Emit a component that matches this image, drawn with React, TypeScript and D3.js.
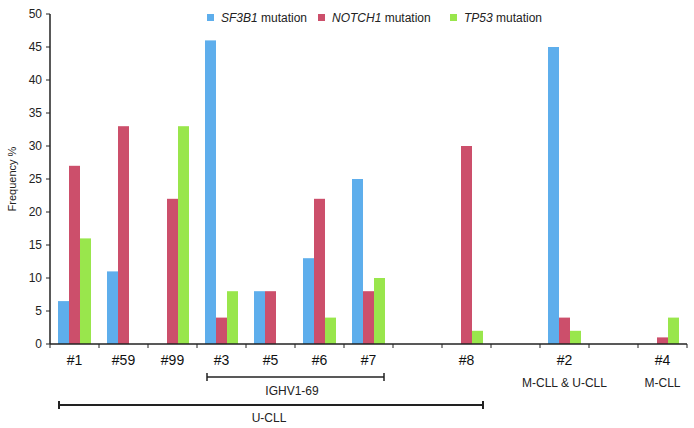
import React from "react";
import * as d3 from "d3";

const categories = ["#1", "#59", "#99", "#3", "#5", "#6", "#7", "", "#8", "", "#2", "", "#4"];
const seriesNames = ["SF3B1", "NOTCH1", "TP53"];
const sf3b1 = [6.5, 11, 0, 46, 8, 13, 25, 0, 0, 0, 45, 0, 0];
const notch1 = [27, 33, 22, 4, 8, 22, 8, 0, 30, 0, 4, 0, 1];
const tp53 = [16, 0, 33, 8, 0, 4, 10, 0, 2, 0, 2, 0, 4];
const yTicks = [0, 5, 10, 15, 20, 25, 30, 35, 40, 45, 50];
const colors = ["#5eaeec", "#cc4f6b", "#99e64c"];

export default function App() {
  const W = 694, H = 428;
  const left = 50, right = 687, top = 14, bottom = 344;
  const x = d3.scaleBand<string>().domain(categories.map((c, i) => String(i))).range([left, right]).paddingInner(0).paddingOuter(0);
  const y = d3.scaleLinear().domain([0, 50]).range([bottom, top]);
  const series = [sf3b1, notch1, tp53];
  const bw = 11;
  const font = "'Liberation Sans', Arial, sans-serif";
  const xi = (i: number) => x(String(i)) as number;
  const bracket = (x1: number, x2: number, yy: number, sw: number) => (
    <g stroke="#222" strokeWidth={sw}>
      <line x1={x1} x2={x2} y1={yy} y2={yy} />
      <line x1={x1} x2={x1} y1={yy - 4} y2={yy + 4} />
      <line x1={x2} x2={x2} y1={yy - 4} y2={yy + 4} />
    </g>
  );
  return (
    <svg width={W} height={H} style={{ position: "absolute", left: 0, top: 0, background: "#fff" }} fontFamily={font}>
      {series.map((vals, s) =>
        vals.map((v, i) =>
          v > 0 ? (
            <rect key={`${s}-${i}`} x={xi(i) + x.bandwidth() / 2 - 1.5 * bw + s * bw} y={y(v)} width={bw} height={bottom - y(v)} fill={colors[s]} />
          ) : null
        )
      )}
      <line x1={left} x2={left} y1={top} y2={bottom} stroke="#222" strokeWidth={1.5} />
      <line x1={left} x2={right} y1={bottom} y2={bottom} stroke="#222" strokeWidth={1.5} />
      {yTicks.map((t) => (
        <g key={t}>
          <line x1={left - 4} x2={left} y1={y(t)} y2={y(t)} stroke="#222" />
          <text x={left - 8} y={y(t)} dy="0.35em" textAnchor="end" fontSize={12} fill="#222">{t}</text>
        </g>
      ))}
      {categories.map((c, i) => (
        <line key={"t" + i} x1={xi(i)} x2={xi(i)} y1={bottom} y2={bottom + 4} stroke="#222" />
      ))}
      <line x1={right} x2={right} y1={bottom} y2={bottom + 4} stroke="#222" />
      {categories.map((c, i) => (
        <text key={"c" + i} x={xi(i) + x.bandwidth() / 2} y={365} textAnchor="middle" fontSize={14} fill="#111">{c}</text>
      ))}
      <text transform={`translate(16,${(top + bottom) / 2}) rotate(-90)`} textAnchor="middle" fontSize={11} fill="#222">Frequency %</text>
      {bracket(xi(3) + 10, xi(6) + 40, 377, 1.5)}
      <text x={292} y={395} textAnchor="middle" fontSize={12} fill="#222">IGHV1-69</text>
      {bracket(xi(0) + 9, xi(8) + 41, 405, 2)}
      <text x={269} y={422} textAnchor="middle" fontSize={12} fill="#222">U-CLL</text>
      <text x={xi(10) + x.bandwidth() / 2} y={387} textAnchor="middle" fontSize={12} fill="#222">M-CLL &amp; U-CLL</text>
      <text x={xi(12) + x.bandwidth() / 2} y={387} textAnchor="middle" fontSize={12} fill="#222">M-CLL</text>
      {[207, 318, 450].map((lx, s) => (
        <g key={"l" + s}>
          <rect x={lx} y={14} width={7} height={7} fill={colors[s]} />
          <text x={lx + 14} y={18} dy="0.35em" fontSize={12} fill="#222">
            <tspan fontStyle="italic">{seriesNames[s]}</tspan> mutation
          </text>
        </g>
      ))}
    </svg>
  );
}
